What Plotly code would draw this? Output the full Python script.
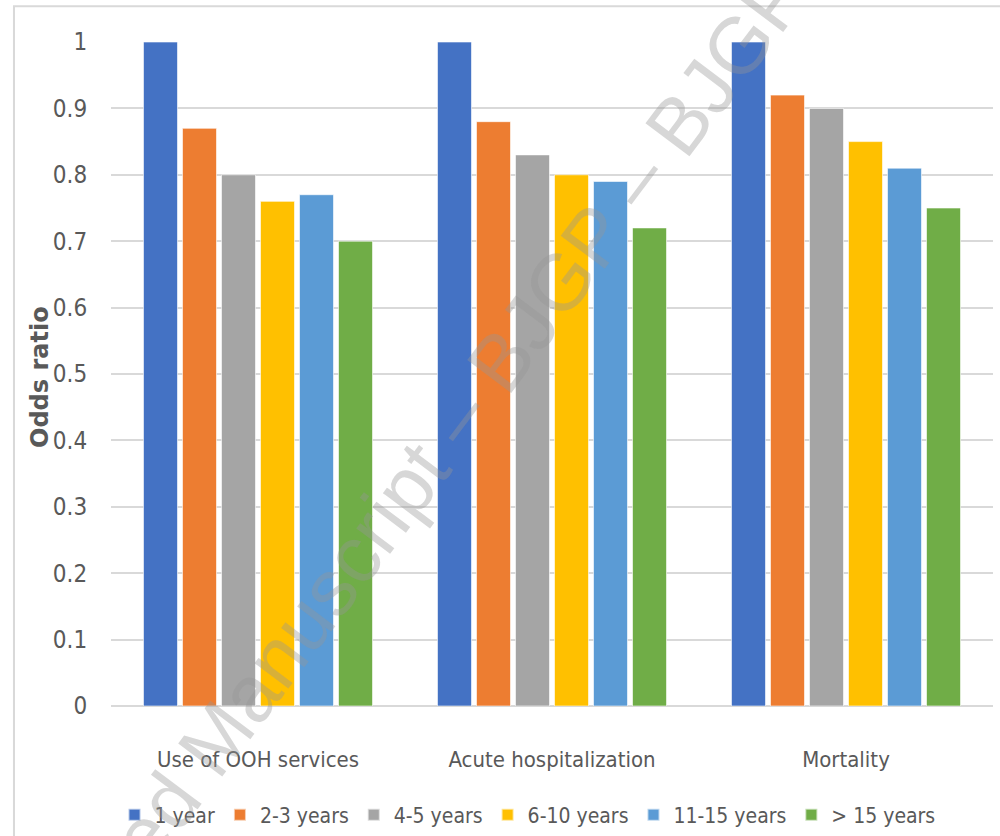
import plotly.graph_objects as go

# Outcome categories and follow-up duration groups
categories = ["Use of OOH services", "Acute hospitalization", "Mortality"]
groups = ["1 year", "2-3 years", "4-5 years", "6-10 years", "11-15 years", "> 15 years"]

# Odds ratios per duration group, one value per outcome
or_1y = [1.00, 1.00, 1.00]
or_2_3y = [0.87, 0.88, 0.92]
or_4_5y = [0.80, 0.83, 0.90]
or_6_10y = [0.76, 0.80, 0.85]
or_11_15y = [0.77, 0.79, 0.81]
or_gt15y = [0.70, 0.72, 0.75]

series = [or_1y, or_2_3y, or_4_5y, or_6_10y, or_11_15y, or_gt15y]
colors = ["#4472C4", "#ED7D31", "#A5A5A5", "#FFC000", "#5B9BD5", "#70AD47"]

tick_vals = [0, 0.1, 0.2, 0.3, 0.4, 0.5, 0.6, 0.7, 0.8, 0.9, 1]
tick_text = ["0", "0.1", "0.2", "0.3", "0.4", "0.5", "0.6", "0.7", "0.8", "0.9", "1"]

narrow = "DejaVu Sans Condensed, Liberation Sans, sans-serif"
text_grey = "#595959"

fig = go.Figure()
for name, vals, col in zip(groups, series, colors):
    fig.add_trace(go.Bar(
        name=name, x=categories, y=vals,
        marker=dict(color=col, line=dict(color="rgba(255,255,255,0.6)", width=1)),
    ))

fig.update_layout(
    width=1000, height=836,
    margin=dict(l=111, r=7, t=42, b=130),
    paper_bgcolor="white", plot_bgcolor="white",
    barmode="group", bargap=0.204, bargroupgap=0.128,
    font=dict(family=narrow, color=text_grey),
    showlegend=True,
    legend=dict(
        orientation="h", x=0.004, xanchor="left",
        yref="container", y=0.025, yanchor="middle",
        font=dict(family=narrow, size=21, color=text_grey),
        traceorder="normal", itemsizing="constant",
        tracegroupgap=0, borderwidth=0,
    ),
    xaxis=dict(
        showgrid=False, showline=False, zeroline=False,
        ticks="outside", ticklen=34, tickcolor="rgba(0,0,0,0)",
        tickfont=dict(family=narrow, size=22, color=text_grey),
    ),
    yaxis=dict(
        range=[0, 1.0], tickvals=tick_vals, ticktext=tick_text,
        showgrid=True, gridcolor="#D9D9D9", gridwidth=2,
        zeroline=True, zerolinecolor="#D9D9D9", zerolinewidth=2,
        showline=False,
        ticks="outside", ticklen=18, tickcolor="rgba(0,0,0,0)",
        tickfont=dict(family=narrow, size=24, color=text_grey),
    ),
    shapes=[dict(
        type="rect", xref="paper", yref="paper",
        x0=-0.11, x1=1.2, y0=-0.3, y1=1.054,
        line=dict(color="#D9D9D9", width=2), fillcolor="rgba(0,0,0,0)",
        layer="below",
    )],
    annotations=[
        dict(
            text="Odds ratio", xref="paper", yref="paper",
            x=-0.0805, y=0.4955, xanchor="center", yanchor="middle",
            textangle=-90, showarrow=False,
            font=dict(family="DejaVu Sans", size=24, color=text_grey, weight="bold"),
        ),
        dict(
            text="Accepted Manuscript – BJGP – BJGP", xref="paper", yref="paper",
            x=0.3107, y=0.289, xanchor="center", yanchor="middle",
            textangle=-53, showarrow=False,
            font=dict(family="Liberation Sans", size=80, color="rgba(150,150,150,0.38)"),
        ),
    ],
)

fig.write_html("out.html")
